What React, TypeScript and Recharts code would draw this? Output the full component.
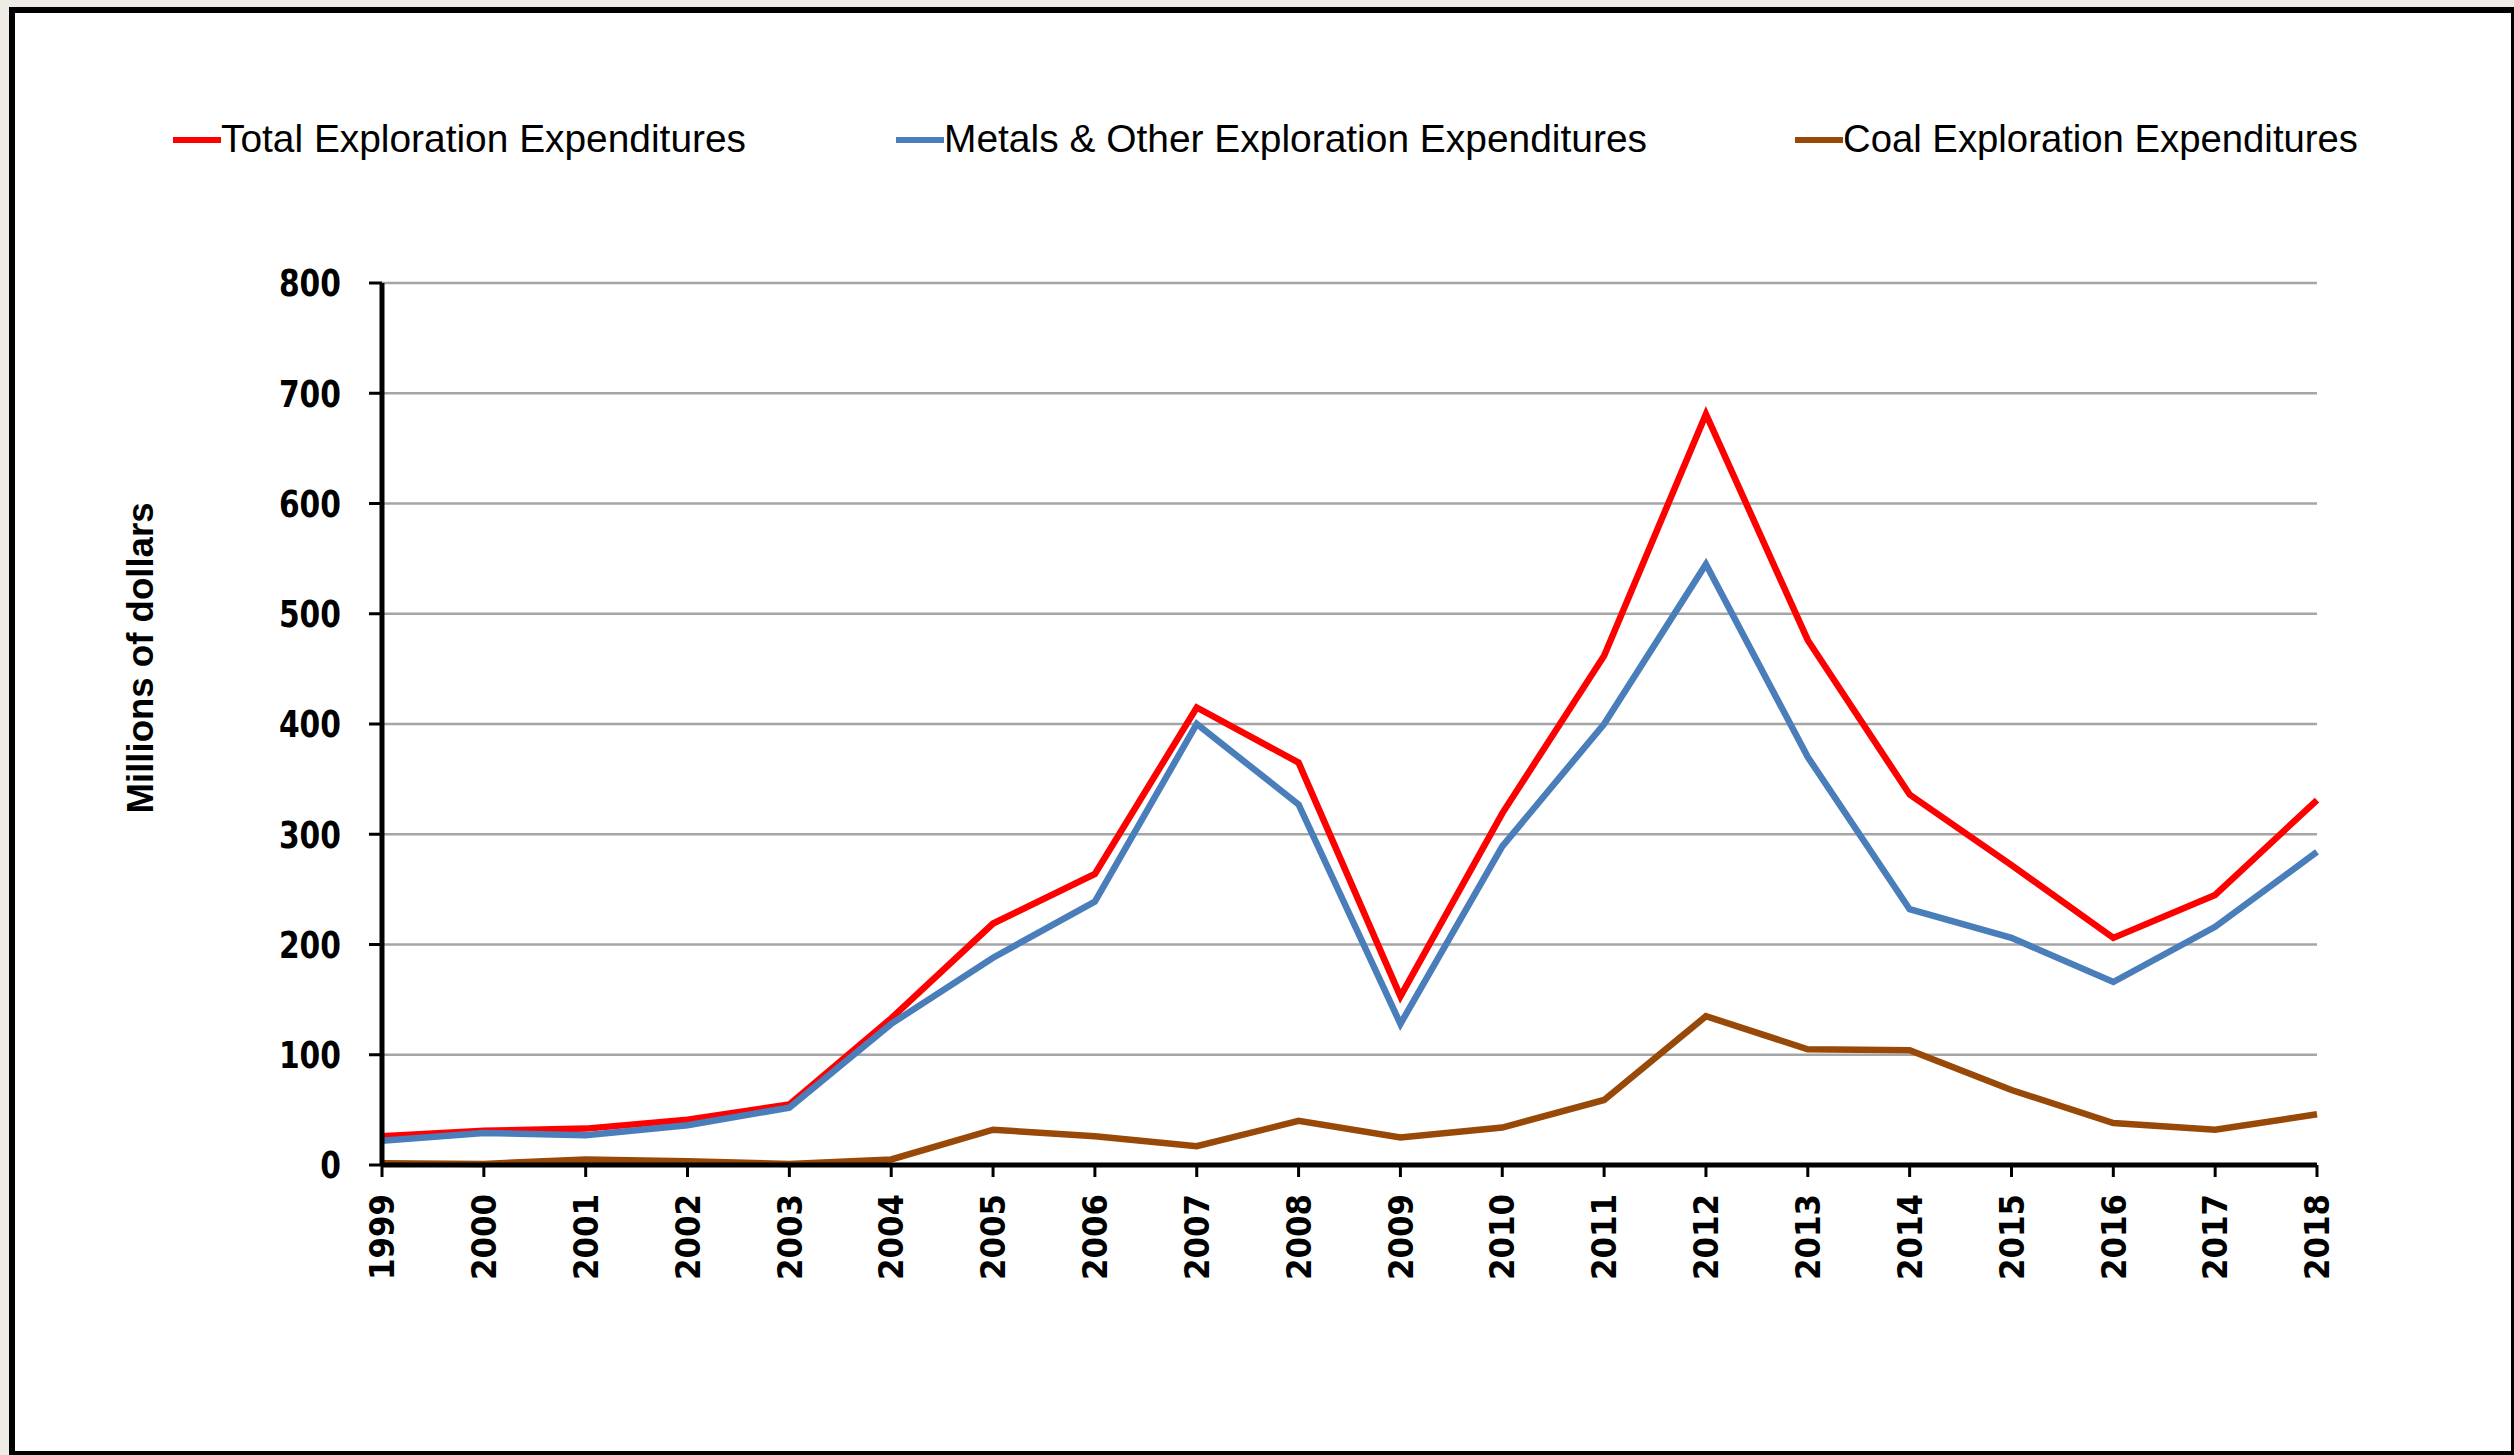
import React from 'react';
import { LineChart, Line, XAxis, YAxis, CartesianGrid, Legend } from 'recharts';

const YEARS = ['1999', '2000', '2001', '2002', '2003', '2004', '2005', '2006', '2007', '2008', '2009', '2010', '2011', '2012', '2013', '2014', '2015', '2016', '2017', '2018'];
const TOTAL = [26, 31, 33, 41, 55, 133, 219, 264, 415, 365, 153, 319, 462, 681, 476, 336, 272, 206, 245, 331];
const METALS = [22, 29, 27, 36, 52, 128, 188, 239, 400, 327, 128, 289, 400, 545, 370, 232, 206, 166, 216, 284];
const COAL = [1.5, 1, 5, 3.5, 1, 5, 32, 26, 17, 40, 25, 34, 59, 135, 105, 104, 68, 38, 32, 46];
const SERIES_NAMES = ['Total Exploration Expenditures', 'Metals & Other Exploration Expenditures', 'Coal Exploration Expenditures'];
const SERIES_COLORS = ['#ff0000', '#4a7ebb', '#984807'];
const Y_TICKS = [0, 100, 200, 300, 400, 500, 600, 700, 800];
const Y_LABEL = 'Millions of dollars';

const data = YEARS.map((year, i) => ({ year, total: TOTAL[i], metals: METALS[i], coal: COAL[i] }));

// layout constants for the legend
const LEGEND_X = [173, 896, 1795];
const LEGEND_TEXT_W = [525, 703, 515];

const YTick = (props: any) => {
  const { x, y, payload } = props;
  const s = String(payload.value);
  const w = s.length * 20.7;
  return (
    <text x={x - w} y={y} dy="0.36em" textLength={w} lengthAdjust="spacingAndGlyphs"
      fontFamily="DejaVu Sans" fontWeight="bold" fontSize={37} fill="#000">{s}</text>
  );
};

const XTick = (props: any) => {
  const { x, y, payload } = props;
  const s = String(payload.value);
  const w = 86;
  return (
    <text transform={`rotate(-90 ${x} ${y})`} x={x - w} y={y} dy="0.36em" textLength={w}
      lengthAdjust="spacingAndGlyphs" fontFamily="DejaVu Sans" fontWeight="bold" fontSize={34} fill="#000">{s}</text>
  );
};

const LegendContent = (props: any) => {
  const payload = [...(props.payload || [])].sort(
    (a: any, b: any) => SERIES_NAMES.indexOf(a.value) - SERIES_NAMES.indexOf(b.value)
  );
  return (
    <svg width={2514} height={200} style={{ display: 'block' }}>
      {payload.map((p: any, i: number) => (
        <g key={i}>
          <line x1={LEGEND_X[i]} x2={LEGEND_X[i] + 48} y1={140} y2={140} stroke={p.color} strokeWidth={6} />
          <text x={LEGEND_X[i] + 48} y={152} textLength={LEGEND_TEXT_W[i]} lengthAdjust="spacingAndGlyphs"
            fontFamily="Liberation Sans" fontSize={38.5} fill="#000">{p.value}</text>
        </g>
      ))}
    </svg>
  );
};

const YLabel = () => {
  const cx = 140, cy = 658, len = 311;
  return (
    <text transform={`rotate(-90 ${cx} ${cy})`} x={cx - len / 2} y={cy + 13} textLength={len}
      lengthAdjust="spacingAndGlyphs" fontFamily="Liberation Sans" fontWeight="bold" fontSize={36} fill="#000">{Y_LABEL}</text>
  );
};

export default function App() {
  return (
    <div style={{ position: 'absolute', left: 0, top: 0, width: 2514, height: 1455, overflow: 'hidden', background: '#efece6' }}>
      <div style={{ position: 'absolute', left: 9, top: 7, width: 2508, height: 1450, boxSizing: 'border-box', border: '6px solid #000', background: '#fff' }} />
      <div style={{ position: 'absolute', left: 0, top: 0 }}>
        <LineChart width={2514} height={1455} data={data} margin={{ top: 283, right: 197, bottom: 250, left: 322 }}>
          <CartesianGrid horizontal vertical={false} stroke="#a5a5a5" strokeWidth={2.5} />
          <XAxis dataKey="year" height={40} interval={0} tick={<XTick />} tickSize={12} tickMargin={17}
            axisLine={{ stroke: '#000', strokeWidth: 5 }} tickLine={{ stroke: '#000', strokeWidth: 3 }} />
          <YAxis width={60} domain={[0, 800]} ticks={Y_TICKS} interval={0} tick={<YTick />} tickSize={13} tickMargin={28}
            axisLine={{ stroke: '#000', strokeWidth: 5 }} tickLine={{ stroke: '#000', strokeWidth: 3 }}
            label={<YLabel />} />
          <Legend layout="vertical" align="center" verticalAlign="middle" content={<LegendContent />}
            wrapperStyle={{ position: 'absolute', left: 0, top: 0, width: 2514, height: 200 }} />
          <Line type="linear" dataKey="total" name={SERIES_NAMES[0]} stroke={SERIES_COLORS[0]} strokeWidth={6.5} dot={false} activeDot={false} isAnimationActive={false} />
          <Line type="linear" dataKey="metals" name={SERIES_NAMES[1]} stroke={SERIES_COLORS[1]} strokeWidth={6.5} dot={false} activeDot={false} isAnimationActive={false} />
          <Line type="linear" dataKey="coal" name={SERIES_NAMES[2]} stroke={SERIES_COLORS[2]} strokeWidth={6.5} dot={false} activeDot={false} isAnimationActive={false} />
        </LineChart>
      </div>
    </div>
  );
}
